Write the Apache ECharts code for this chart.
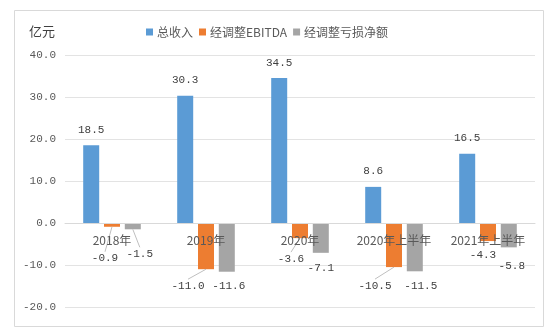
<!DOCTYPE html>
<html><head><meta charset="utf-8">
<script src="https://cdn.jsdelivr.net/npm/echarts@6/dist/echarts.min.js"></script>
<style>html,body{margin:0;padding:0;background:#fff}#c{width:556px;height:330px}</style>
</head><body><div id="c"></div>
<script>
const categories = ['2018年', '2019年', '2020年', '2020年上半年', '2021年上半年'];
const seriesNames = ['总收入', '经调整EBITDA', '经调整亏损净额'];
const revenue = [18.5, 30.3, 34.5, 8.6, 16.5];
const ebitda = [-0.9, -11.0, -3.6, -10.5, -4.3];
const netLoss = [-1.5, -11.6, -7.1, -11.5, -5.8];
const yTicks = {min: -20, max: 40, interval: 10};
const unitLabel = '亿元';

// label nudges and leader-line visibility (style only), per series per category
const nudges = [
  [[0,0],[0,0],[0,0],[0,0],[0,0]],
  [[-7,21],[-18,6],[-9,10],[-19,8],[-5,4]],
  [[7,14],[2,4],[0,5],[6,4],[3,8]]
];
const leaders = [
  [false,false,false,false,false],
  [true,true,true,true,false],
  [true,false,false,false,false]
];
const colors = ['#5B9BD5', '#ED7D31', '#A5A5A5'];
const numFont = '"Liberation Mono", monospace';
const cjkFont = '"Noto Sans CJK SC", sans-serif';
const gridBottom = 23;
const barWidth = 16, barGapRatio = 0.3, labelDistance = 5;

const values = [revenue, ebitda, netLoss];

// leader lines: from bar end to moved label, located via the axes
const leaderItems = [];
values.forEach((arr, si) => arr.forEach((v, ci) => {
  if (leaders[si][ci]) leaderItems.push([ci, v, si]);
}));

const el = document.getElementById('c');
function buildOption(xOffset) {
  return {
    animation: false,
    color: colors,
    graphic: [{type: 'rect', left: 12, top: 8, shape: {width: 529, height: 316},
      style: {fill: 'none', stroke: '#D9D9D9', lineWidth: 1}, silent: true},
      {type: 'text', left: 29, top: 25, style: {text: unitLabel, fill: '#404040', font: '13px ' + cjkFont}}],
    legend: {left: 141, top: 21, itemWidth: 7, itemHeight: 7, itemGap: 6,
      icon: 'rect', textStyle: {color: '#595959', fontSize: 12, fontFamily: cjkFont, padding: [0,0,0,-1]},
      data: seriesNames},
    grid: {left: 65, right: 21, top: 55, bottom: gridBottom, containLabel: false},
    xAxis: {type: 'category', data: categories, z: 5, offset: xOffset,
      axisLine: {onZero: false, lineStyle: {color: '#D9D9D9'}},
      axisTick: {show: false},
      axisLabel: {color: '#595959', fontSize: 12, fontFamily: cjkFont, margin: 11, interval: 0}},
    yAxis: {type: 'value', min: yTicks.min, max: yTicks.max, interval: yTicks.interval,
      axisLine: {show: false}, axisTick: {show: false},
      splitLine: {lineStyle: {color: '#E3E3E3'}},
      axisLabel: {color: '#595959', fontSize: 11, fontFamily: numFont, margin: 9,
        formatter: v => v.toFixed(1)}},
    series: values.map((arr, si) => ({
      name: seriesNames[si], type: 'bar', barWidth: barWidth, barGap: (barGapRatio * 100) + '%',
      data: arr.map((v, ci) => ({value: v,
        label: {position: v < 0 ? 'bottom' : 'top'}})),
      label: {show: true, distance: si === 0 ? 10 : labelDistance, color: '#404040', fontSize: 11, fontFamily: numFont,
        formatter: p => p.value.toFixed(1)},
      labelLayout: p => {
        const n = nudges[si][p.dataIndex];
        return {dx: n[0], dy: n[1]};
      }
    })).concat([{
      type: 'custom', name: 'leaders', silent: true, z: 4, clip: false,
      encode: {x: 0, y: 1},
      data: leaderItems,
      renderItem: (params, api) => {
        const ci = api.value(0), v = api.value(1), si = api.value(2);
        const p = api.coord([ci, v]);
        const slot = (si - 1) * barWidth * (1 + barGapRatio);
        const x0 = p[0] + slot, y0 = p[1];
        const n = nudges[si][ci];
        const x1 = x0 + n[0], y1 = y0 + labelDistance + n[1] - 1;
        return {type: 'line', shape: {x1: x0, y1: y0, x2: x1, y2: y1},
          style: {stroke: '#BFBFBF', lineWidth: 1}};
      }
    }])
  };
}
// measure where zero lies on the value axis, then build the final chart
let chart = echarts.init(el);
chart.setOption(buildOption(0));
const zeroY = chart.convertToPixel({yAxisIndex: 0}, 0);
const bottomY = chart.convertToPixel({yAxisIndex: 0}, yTicks.min);
chart.dispose();
chart = echarts.init(el);
chart.setOption(buildOption(-(bottomY - zeroY)));
</script></body></html>
